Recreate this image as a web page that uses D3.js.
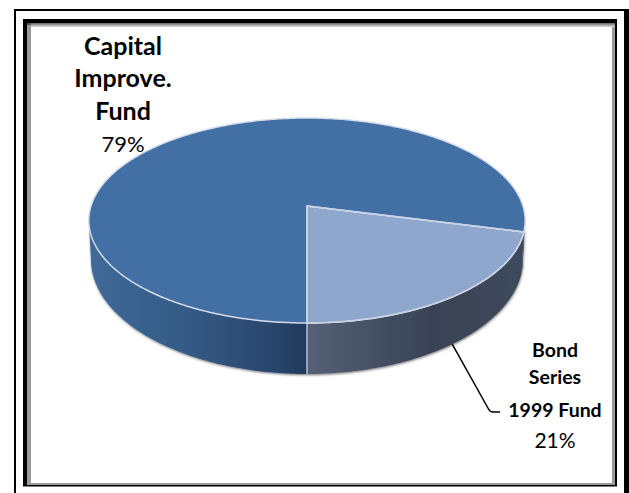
<!DOCTYPE html>
<html><head><meta charset="utf-8">
<script src="https://cdn.jsdelivr.net/npm/d3@7"></script>
<style>html,body{margin:0;padding:0;background:#fff}svg{display:block}text{font-family:Lato,"Open Sans",sans-serif;fill:#000;text-anchor:middle}</style>
</head><body><svg id="c" width="629" height="493"></svg>
<script>
const categories = ["Bond Series 1999 Fund", "Capital Improve. Fund"];
const values = [21, 79];
const topColors = ["#8fa6cd", "#4270a5"];
const wallStops = [
  [["0", "#566076"], ["0.42", "#3f4a5e"], ["0.58", "#394354"], ["1", "#3e495c"]],
  [["0", "#3f6999"], ["0.5", "#335882"], ["0.85", "#28456c"], ["1", "#223a5b"]]
];
const labelLines = [
  [["Bond", 357, 19.5, 700], ["Series", 384, 19.5, 700], ["1999 Fund", 417, 19.5, 700], ["21%", 448, 21, 400]],
  [["Capital", 55, 25, 700], ["Improve.", 87, 25, 700], ["Fund", 120, 25, 700], ["79%", 152, 22, 400]]
];
const labelX = [555, 123];

const svg = d3.select("#c");
const defs = svg.append("defs");
const cx = 307, k = 216, persp = -0.1415, yA = 71.3, yB = 206, D = 37.6;

// Frame
const frame = svg.append("g");
const box = (x, y, w, h, f) => frame.append("rect").attr("x", x).attr("y", y).attr("width", w).attr("height", h).attr("fill", f);
box(14, 9, 615, 2, "#000");
box(14, 9, 2, 484, "#000");
box(624, 9, 5, 484, "#000");
box(23, 19, 594, 467.5, "#000");
box(27, 23, 585 + 3, 462, "#9a9a9a");
box(27, 23, 588, 2, "#555");
box(31, 27, 581, 456, "#fff");
const topShade = defs.append("linearGradient").attr("id", "ts").attr("x1", 0).attr("x2", 0).attr("y1", 0).attr("y2", 1);
topShade.append("stop").attr("offset", 0).attr("stop-color", "#666");
topShade.append("stop").attr("offset", 1).attr("stop-color", "#ddd");
box(31, 23, 584, 4, "url(#ts)");

// Perspective-projected pie geometry
function rim(theta, lower) {
  const u = Math.sin(theta), v = -Math.cos(theta), w = 1 + persp * v;
  const x = k * u / w, y = (yA * v + yB) / w;
  if (!lower) return [cx + x, y];
  return [cx + x * 0.99, y + D / (w * w)];
}
const apex = [cx, yB];
const tail = 2 * Math.PI * values[0] / d3.sum(values);
const pie2 = d3.pie().sort(null).value(d => d).startAngle(Math.PI - tail).endAngle(3 * Math.PI - tail);
const arcs = pie2(values);

const line = d3.line();
function sample(a, b, fn) {
  const n = Math.max(2, Math.ceil(Math.abs(b - a) * 80));
  return d3.range(n + 1).map(i => fn(a + (b - a) * i / n));
}

const tangent = Math.acos(persp);
const visA = tangent, visB = 2 * Math.PI - tangent;

defs.append("filter").attr("id", "sh").attr("x", "-5%").attr("y", "-5%").attr("width", "110%").attr("height", "115%")
  .append("feDropShadow").attr("dx", 0.5).attr("dy", 1.2).attr("stdDeviation", 1.3).attr("flood-color", "#000").attr("flood-opacity", 0.5);
const pieG = svg.append("g").attr("filter", "url(#sh)");

arcs.forEach((d, i) => {
  const grad = defs.append("linearGradient").attr("id", "w" + i).attr("gradientUnits", "userSpaceOnUse")
    .attr("x1", i === 0 ? cx : 92).attr("x2", i === 0 ? 525 : cx).attr("y1", 0).attr("y2", 0);
  wallStops[i].forEach(s => grad.append("stop").attr("offset", s[0]).attr("stop-color", s[1]));
  const ranges = [[d.startAngle, d.endAngle], [d.startAngle + 2 * Math.PI, d.endAngle + 2 * Math.PI], [d.startAngle - 2 * Math.PI, d.endAngle - 2 * Math.PI]];
  ranges.forEach(r => {
    const a = Math.max(r[0], visA), b = Math.min(r[1], visB);
    if (b <= a) return;
    const pts = sample(a, b, t => rim(t)).concat(sample(b, a, t => rim(t, true)));
    pieG.append("path").attr("d", line(pts) + "Z").attr("fill", b <= Math.PI + 1e-6 && i === 1 ? wallStops[0][3][1] : `url(#w${i})`);
  });
});

// Light seam on the wall between the slices
const seam = arcs[0].endAngle;
svg.append("path").attr("d", line([rim(seam), rim(seam, true)])).attr("stroke", "#b9c1cf").attr("stroke-width", 1.5).attr("fill", "none");

// Top faces
arcs.forEach((d, i) => {
  const pts = [apex].concat(sample(d.startAngle, d.endAngle, t => rim(t)));
  svg.append("path").attr("d", line(pts) + "Z").attr("fill", topColors[i])
    .attr("stroke", "#d5dcea").attr("stroke-width", 1.5).attr("stroke-linejoin", "round");
});
{
  const d = arcs[0];
  const pts = [apex].concat(sample(d.startAngle, d.endAngle, t => rim(t)));
  svg.append("path").attr("d", line(pts) + "Z").attr("fill", "none").attr("stroke", "#c9d3e6").attr("stroke-width", 1.5);
}

// Leader line
const anchor = rim(arcs[0].startAngle + (arcs[0].endAngle - arcs[0].startAngle) * 0.51, true);
svg.append("path").attr("d", `M${anchor[0]},${anchor[1]}L488.5,409Q490,412 493,412H500`)
  .attr("fill", "none").attr("stroke", "#000").attr("stroke-width", 1.5);

// Labels
labelLines.forEach((lines, i) => lines.forEach(l => {
  svg.append("text").attr("x", labelX[i]).attr("y", l[1]).attr("font-size", l[2]).attr("font-weight", l[3]).text(l[0]);
}));
</script></body></html>
